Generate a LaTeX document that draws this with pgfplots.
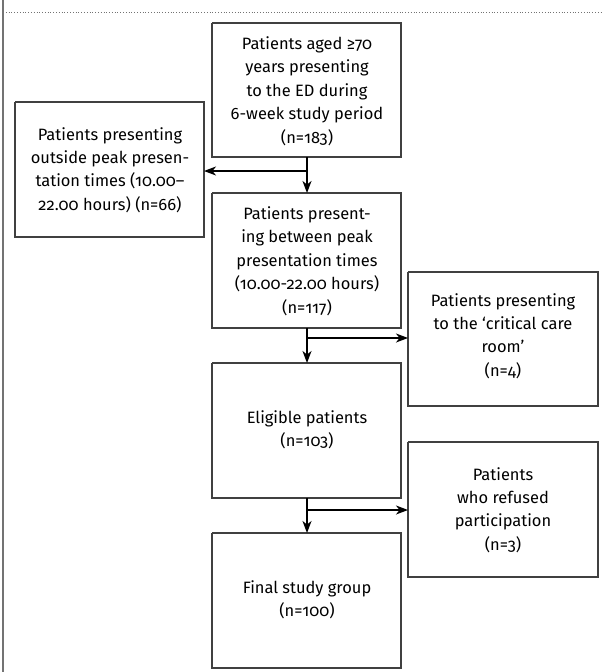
\documentclass[border=0pt]{standalone}
\usepackage{pgfplots}
\pgfplotsset{compat=1.18}
\usetikzlibrary{arrows.meta}
\usepackage{fontspec}
\setmainfont{Fira Sans}[Numbers=OldStyle]
\newfontfamily\capfont{Liberation Serif}
\tikzset{
  box/.style={draw=black!75,line width=1.3bp,line join=miter,mark=none},
  arr/.style={black,line width=1.2bp,mark=none,-{Stealth[length=12bp,width=9bp,inset=3.5bp]}},
  txt/.style={align=center,font=\fontsize{16.5}{23.5}\selectfont,text=black}}
\begin{document}
\begin{tikzpicture}
\begin{axis}[x=1bp,y=1bp,xmin=0,xmax=603,ymin=0,ymax=672,y dir=reverse,
  scale only axis,hide axis,clip=false]
\coordinate (SW) at (axis cs:0,672);
\coordinate (NE) at (axis cs:603,0);
% frame elements
\addplot[black!55,line width=1.6bp,mark=none] coordinates {(3,0) (3,672)};
\addplot[black!55,line width=0.8bp,dotted,mark=none] coordinates {(3,12) (603,12)};
\node[anchor=base west,inner sep=0pt,font=\capfont\fontsize{21}{21}\selectfont] at (axis cs:7,-4.3) {\textbf{Figure 1} \textit{Study population}};
% boxes
\addplot[box] coordinates {(212,23) (401,23) (401,157) (212,157) (212,23)};
\addplot[box] coordinates {(15,102) (204,102) (204,237) (15,237) (15,102)};
\addplot[box] coordinates {(212,193) (401,193) (401,328) (212,328) (212,193)};
\addplot[box] coordinates {(408,272) (598,272) (598,406) (408,406) (408,272)};
\addplot[box] coordinates {(212,363) (401,363) (401,498) (212,498) (212,363)};
\addplot[box] coordinates {(408,442) (598,442) (598,577) (408,577) (408,442)};
\addplot[box] coordinates {(212,533) (401,533) (401,668) (212,668) (212,533)};
% connectors
\addplot[arr] coordinates {(307,157) (307,193)};
\addplot[arr] coordinates {(307,171) (204,171)};
\addplot[arr] coordinates {(307,328) (307,363)};
\addplot[arr] coordinates {(307,338) (408,338)};
\addplot[arr] coordinates {(307,498) (307,533)};
\addplot[arr] coordinates {(307,510) (408,510)};
% texts
\node[txt] at (axis cs:307,91) {Patients aged ≥70\\years presenting\\to the ED during\\6-week study period\\(n=183)};
\node[txt] at (axis cs:110,170) {Patients presenting\\outside peak presen-\\tation times (10.00–\\22.00 hours) (n=66)};
\node[txt] at (axis cs:307,261) {Patients present-\\ing between peak\\presentation times\\(10.00-22.00 hours)\\(n=117)};
\node[txt] at (axis cs:503,336) {Patients presenting\\to the ‘critical care\\room’\\(n=4)};
\node[txt] at (axis cs:307,430) {Eligible patients\\(n=103)};
\node[txt] at (axis cs:503,510) {Patients\\who refused\\participation\\(n=3)};
\node[txt] at (axis cs:307,600) {Final study group\\(n=100)};
\end{axis}
\pgfresetboundingbox
\path[use as bounding box] (SW) rectangle (NE);
\end{tikzpicture}
\end{document}
